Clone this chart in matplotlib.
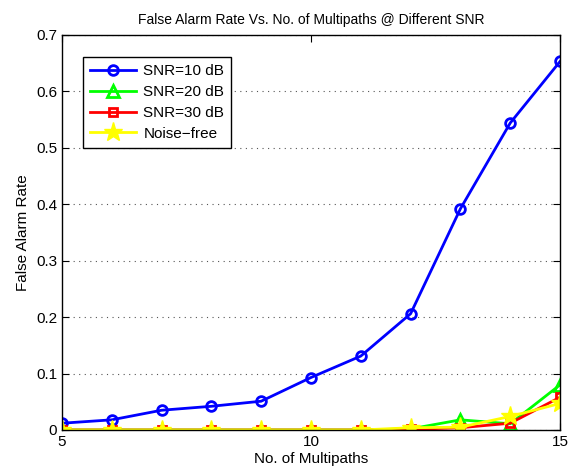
import numpy as np
import matplotlib
matplotlib.use("Agg")
import matplotlib.pyplot as plt

plt.rcParams['font.family'] = ['Liberation Sans', 'DejaVu Sans']

paths = [5, 6, 7, 8, 9, 10, 11, 12, 13, 14, 15]
snr10 = [0.012, 0.018, 0.035, 0.042, 0.051, 0.093, 0.131, 0.206, 0.392, 0.544, 0.653]
snr20 = [0, 0, 0, 0, 0, 0, 0, 0.002, 0.018, 0.011, 0.080]
snr30 = [0, 0, 0, 0, 0, 0, 0, 0.001, 0.004, 0.012, 0.058]
noise_free = [0, 0, 0, 0, 0, 0, 0, 0.004, 0.005, 0.024, 0.047]

fig = plt.figure(figsize=(5.68, 4.72), dpi=100)
ax = fig.add_axes([0.109, 0.089, 0.877, 0.837])

ax.plot(paths, snr10, color='#0000ff', lw=2, marker='o', ms=7, mfc='none', mew=2, label='SNR=10 dB')
ax.plot(paths, snr20, color='#00ff00', lw=2, marker='^', ms=9, mfc='none', mew=2, label='SNR=20 dB')
ax.plot(paths, snr30, color='#ff0000', lw=2, marker='s', ms=6, mfc='none', mew=2, label='SNR=30 dB')
ax.plot(paths, noise_free, color='#ffff00', lw=2, marker='*', ms=14, mfc='#ffff00', label='Noise\u2212free')

ax.set_xlim(5, 15)
ax.set_ylim(0, 0.7)
ax.set_xticks([5, 10, 15])
ax.set_yticks(np.arange(0, 0.71, 0.1))
ax.set_yticklabels(['0', '0.1', '0.2', '0.3', '0.4', '0.5', '0.6', '0.7'])
ax.tick_params(direction='in', labelsize=11, length=5, top=True, right=True)
ax.yaxis.grid(True, linestyle=(0, (1, 4)), color='#555555', lw=0.8)
for s in ax.spines.values():
    s.set_linewidth(1)

ax.set_title('False Alarm Rate Vs. No. of Multipaths @ Different SNR', fontsize=10, pad=8)
ax.set_xlabel('No. of Multipaths', fontsize=11, labelpad=2)
ax.set_ylabel('False Alarm Rate', fontsize=11)

leg = ax.legend(loc='upper left', bbox_to_anchor=(0.033, 0.955), fontsize=11, fancybox=False,
                edgecolor='black', framealpha=1, handlelength=3.0, handletextpad=0.5,
                borderpad=0.45, borderaxespad=0.3, labelspacing=0.45)
leg.get_frame().set_linewidth(1)

fig.savefig('out.png', dpi=100)
